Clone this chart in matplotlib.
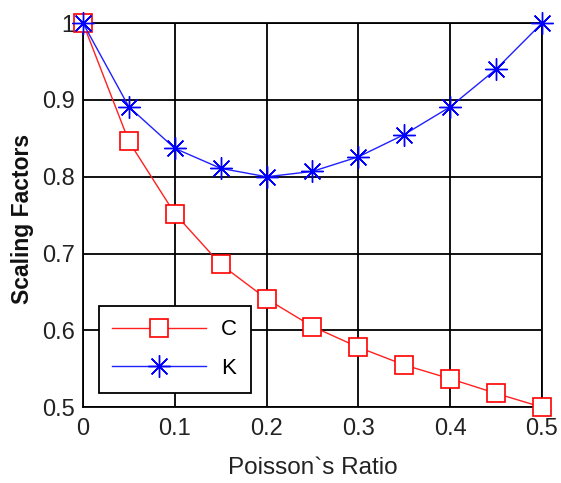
import matplotlib
matplotlib.use("Agg")
import matplotlib.pyplot as plt

nu = [0.0, 0.05, 0.10, 0.15, 0.20, 0.25, 0.30, 0.35, 0.40, 0.45, 0.50]
C = [1.0, 0.846, 0.752, 0.686, 0.641, 0.605, 0.578, 0.555, 0.537, 0.518, 0.500]
K = [1.0, 0.891, 0.837, 0.811, 0.800, 0.807, 0.826, 0.855, 0.891, 0.940, 1.000]
xticks = [0, 0.1, 0.2, 0.3, 0.4, 0.5]
xticklabels = ["0", "0.1", "0.2", "0.3", "0.4", "0.5"]
yticks = [0.5, 0.6, 0.7, 0.8, 0.9, 1.0]
yticklabels = ["0.5", "0.6", "0.7", "0.8", "0.9", "1"]

plt.rcParams['font.family'] = ['Liberation Sans', 'DejaVu Sans']

fig = plt.figure(figsize=(5.61, 4.83), dpi=100)
ax = fig.add_axes([0.148, 0.157, 0.818, 0.795])

ax.plot(nu, C, color='#ff2020', lw=1.0, marker='s', markersize=13.5,
        markerfacecolor='white', markeredgecolor='#ff0000', markeredgewidth=1.2,
        label='C', zorder=3, clip_on=False)
ax.plot(nu, K, color='#2020ff', lw=1.0, marker=(8, 2, 0), markersize=16,
        markeredgecolor='#0000ff', markeredgewidth=1.0, label='K', zorder=4,
        clip_on=False)

ax.set_xlim(0, 0.5)
ax.set_ylim(0.5, 1.0)
ax.set_xticks(xticks)
ax.set_xticklabels(xticklabels)
ax.set_yticks(yticks)
ax.set_yticklabels(yticklabels)
ax.tick_params(length=0, labelsize=17, colors='#222222')
ax.tick_params(axis='x', pad=8)
ax.tick_params(axis='y', pad=6)
ax.grid(True, color='black', lw=1.3)
ax.set_axisbelow(True)
for s in ax.spines.values():
    s.set_color('black')
    s.set_linewidth(1.3)

ax.set_xlabel("Poisson`s Ratio", fontsize=17.5, labelpad=12, color='#222222')
ax.set_ylabel("Scaling Factors", fontsize=16.5, fontweight='bold', color='#111111')
ax.yaxis.set_label_coords(-0.107, 0.49)

leg = ax.legend(loc='lower left', bbox_to_anchor=(0.035, 0.038), fontsize=16,
                fancybox=False, edgecolor='black', framealpha=1,
                handlelength=4.2, handletextpad=0.7, borderpad=0.6,
                labelspacing=0.8, borderaxespad=0)
leg.get_frame().set_linewidth(1.3)

fig.savefig("out.png", dpi=100)
